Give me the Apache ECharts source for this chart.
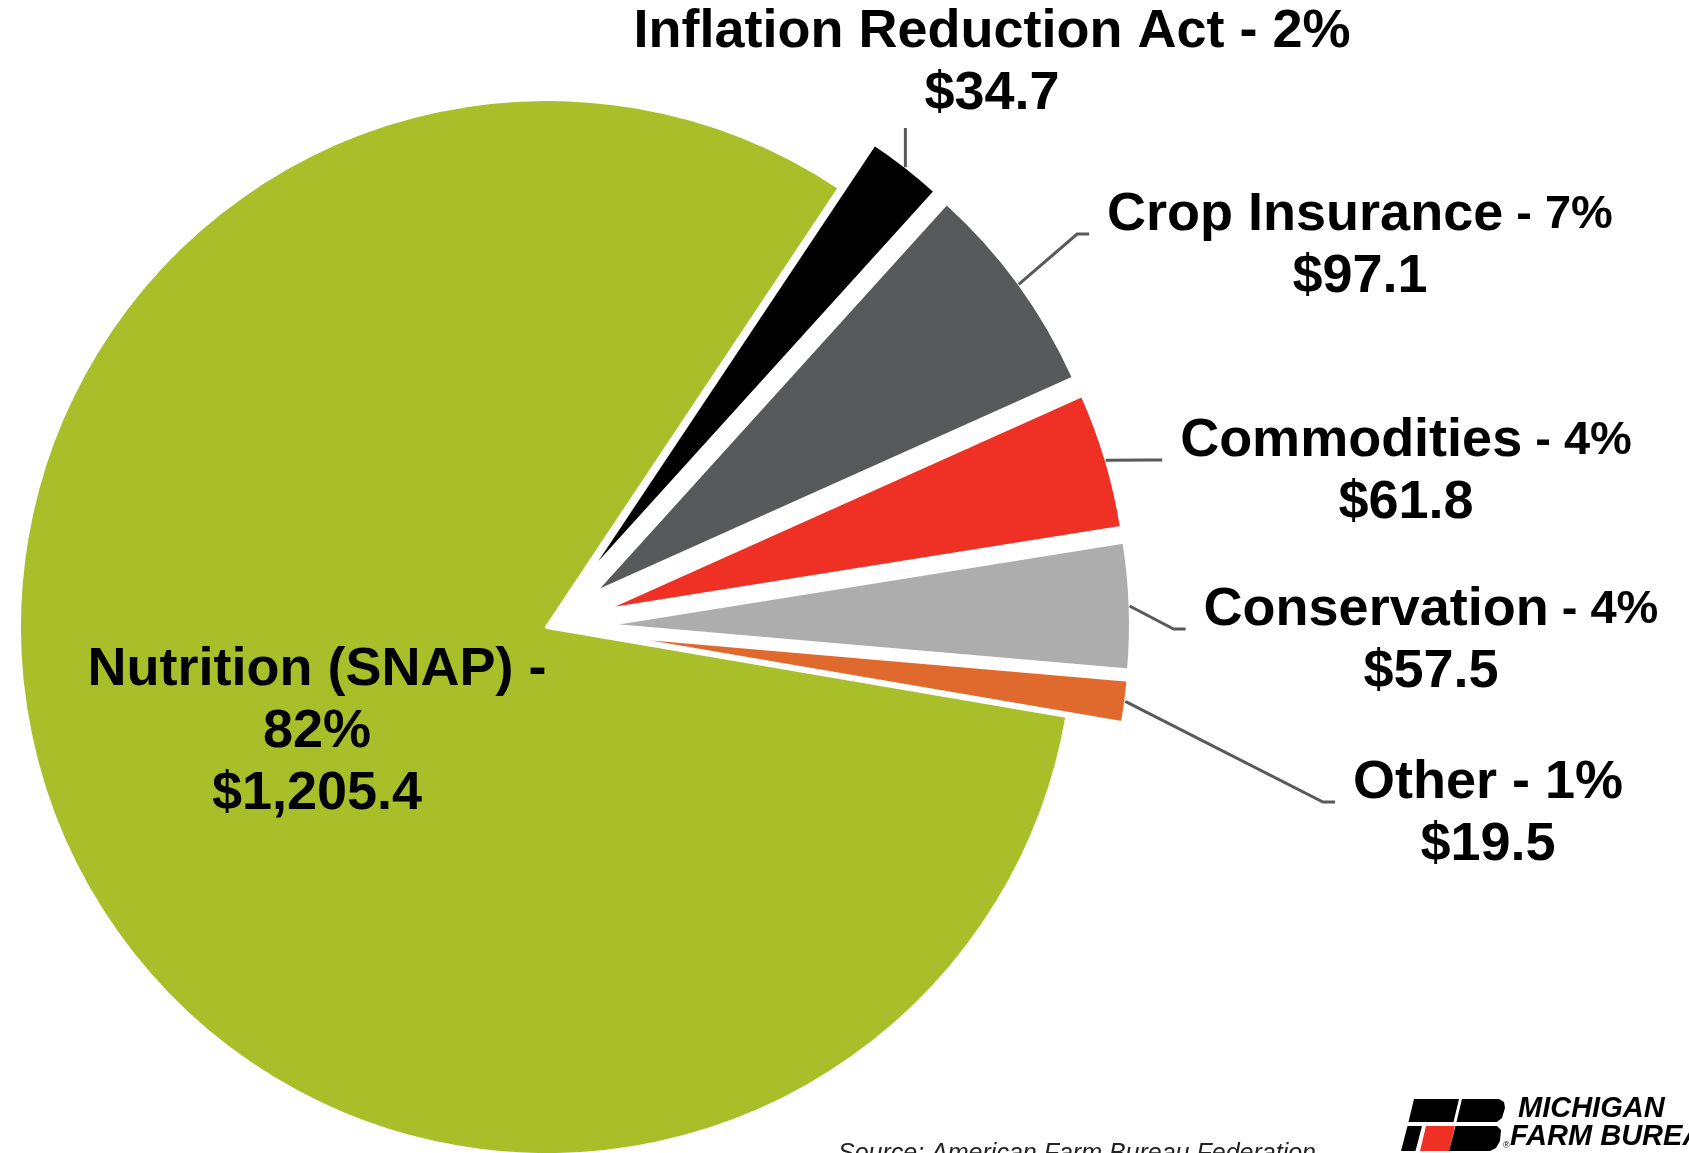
<!DOCTYPE html>
<html><head><meta charset="utf-8">
<script src="https://cdn.jsdelivr.net/npm/echarts@6/dist/echarts.min.js"></script>
<style>html,body{margin:0;padding:0;background:#fff}#c{width:1689px;height:1153px}</style>
</head><body><div id="c"></div>
<script>
// ---- data ----
const categories = ['Inflation Reduction Act', 'Crop Insurance', 'Commodities', 'Conservation', 'Other', 'Nutrition (SNAP)'];
const values = [34.7, 97.1, 61.8, 57.5, 19.5, 1205.4];
const exploded = [true, true, true, true, true, false];

// ---- styles / layout ----
const colors = ['#000000', '#58595b', '#ee3124', '#adadad', '#e06a2e', '#a9bf29'];
const smallPct = [false, true, true, true, false, false];
const labelCenters = [[992, 63], [1360, 246], [1406, 472], [1431, 641], [1488, 814], [317, 732]];
const FONT = '"Liberation Sans", Arial, sans-serif';
const OFFSET = 56;
const PIE_CENTER = [547, 627];
const PIE_R = 528;
const START = 56.3;

function fmtMoney(v) {
  return '$' + v.toLocaleString('en-US', {minimumFractionDigits: 1, maximumFractionDigits: 1});
}
function fmt(p) {
  const pct = Math.round(p.percent) + '%';
  const v = fmtMoney(p.value);
  if (p.dataIndex === 5) return '{n|' + p.name + ' -}\n{n|' + pct + '}\n{n|' + v + '}';
  return '{n|' + p.name + '}{' + (smallPct[p.dataIndex] ? 's' : 'n') + '| - ' + pct + '}\n{n|' + v + '}';
}

const chart = echarts.init(document.getElementById('c'), null, {renderer: 'canvas'});

function labelLayoutFn(p) {
  const i = p.dataIndex;
  const c = labelCenters[i];
  const w = p.labelRect.width, h = p.labelRect.height;
  const res = {x: c[0], y: c[1], align: 'center', verticalAlign: 'middle'};
  if (!exploded[i]) return res;
  const lay = chart.getModel().getSeriesByIndex(1).getData().getItemLayout(i);
  const m = (lay.startAngle + lay.endAngle) / 2;
  const R = lay.r + OFFSET - 1;
  const ax = lay.cx + R * Math.cos(m), ay = lay.cy + R * Math.sin(m);
  if (i === 0) {
    const ty = c[1] + h / 2 + 7;
    res.labelLinePoints = [[ax, ay], [ax, ty], [ax, ty]];
  } else {
    const ex = c[0] - w / 2 - 18, ey = c[1] - 12;
    res.labelLinePoints = [[ax, ay], [ex - 12, ey], [ex, ey]];
  }
  return res;
}

const pieData = categories.map(function (n, i) {
  return {name: n, value: values[i], selected: exploded[i], itemStyle: {color: colors[i]}};
});
const labelData = categories.map(function (n, i) {
  const d = {name: n, value: values[i]};
  if (i === 5) { d.label = {position: 'inside'}; d.labelLine = {show: false}; }
  return d;
});

chart.setOption({
  animation: false,
  backgroundColor: '#ffffff',
  series: [{
    type: 'pie',
    z: 2,
    center: PIE_CENTER,
    radius: PIE_R,
    startAngle: START,
    clockwise: true,
    selectedMode: 'multiple',
    selectedOffset: OFFSET,
    emphasis: {disabled: true},
    silent: true,
    itemStyle: {borderColor: '#ffffff', borderWidth: 4},
    select: {itemStyle: {borderColor: '#ffffff', borderWidth: 4}},
    label: {show: false},
    labelLine: {show: false},
    data: pieData
  }, {
    type: 'pie',
    z: 3,
    center: PIE_CENTER,
    radius: PIE_R,
    startAngle: START,
    clockwise: true,
    percentPrecision: 0,
    avoidLabelOverlap: false,
    silent: true,
    emphasis: {disabled: true},
    itemStyle: {color: 'rgba(0,0,0,0)', borderWidth: 0},
    label: {
      show: true,
      position: 'outside',
      formatter: fmt,
      rich: {
        n: {fontFamily: FONT, fontWeight: 'bold', fontSize: 54, lineHeight: 62, color: '#000'},
        s: {fontFamily: FONT, fontWeight: 'bold', fontSize: 47, lineHeight: 62, color: '#000'}
      }
    },
    labelLine: {show: true, length: 20, length2: 12, smooth: false, lineStyle: {color: '#595959', width: 3}},
    labelLayout: labelLayoutFn,
    data: labelData
  }],
  graphic: [
    {type: 'text', left: 838, top: 1142, silent: true,
     style: {text: 'Source: American Farm Bureau Federation', font: 'italic 25px ' + FONT, fill: '#222'}},
    {type: 'polygon', silent: true, shape: {points: [[1414,1099],[1459,1099],[1453.5,1122],[1408.5,1122]]}, style: {fill: '#000'}},
    {type: 'polygon', silent: true, shape: {points: [[1407.5,1126],[1422,1126],[1415.5,1151],[1401,1151]]}, style: {fill: '#000'}},
    {type: 'polygon', silent: true, shape: {points: [[1426,1126],[1455,1126],[1449,1151],[1420,1151]]}, style: {fill: '#ee3124'}},
    {type: 'polygon', silent: true, shape: {points: [[1462,1099],[1499,1099],[1504,1102],[1505,1108],[1502,1118],[1497,1122],[1456.5,1122]]}, style: {fill: '#000'}},
    {type: 'polygon', silent: true, shape: {points: [[1455.5,1126],[1497,1126],[1501,1130],[1500,1141],[1496,1148],[1490,1151],[1449,1151]]}, style: {fill: '#000'}},
    {type: 'text', left: 1518, top: 1094, silent: true, style: {text: 'MICHIGAN', font: 'italic bold 29px ' + FONT, fill: '#000'}},
    {type: 'text', left: 1503, top: 1141, silent: true, style: {text: '®', font: '9px ' + FONT, fill: '#000'}},
    {type: 'text', left: 1510, top: 1122, silent: true, style: {text: 'FARM BUREAU', font: 'italic bold 29px ' + FONT, fill: '#000'}}
  ]
});
</script>
</body></html>
